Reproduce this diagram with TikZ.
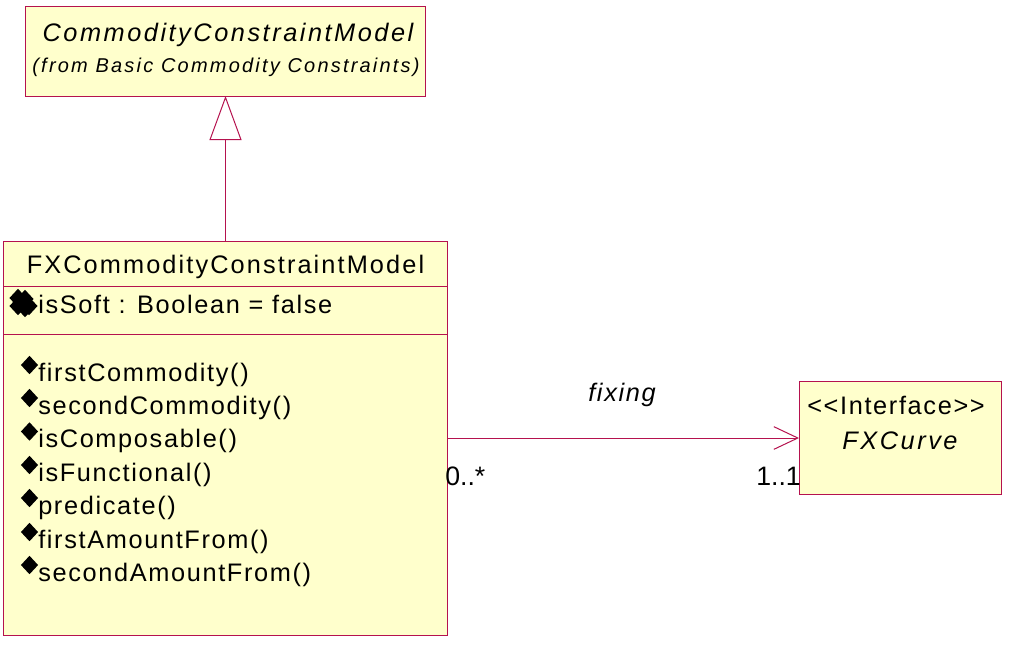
\documentclass[tikz,border=0pt]{standalone}
\usepackage{fontspec}
\usepackage{tikz}
\usetikzlibrary{arrows.meta,shapes.geometric}
\setmainfont{Liberation Sans}
\newfontfamily\umlfont[LetterSpace=6.5]{Liberation Sans}
\newfontfamily\umlhead[LetterSpace=8.3]{Liberation Sans}
\newfontfamily\umlital[LetterSpace=10]{Liberation Sans}
\newfontfamily\umlsmallfont[LetterSpace=11]{Liberation Sans}
\newfontfamily\umlplain{Liberation Sans}
\definecolor{umlline}{HTML}{B5124E}
\definecolor{umlfill}{HTML}{FFFFCC}
\tikzset{
  umlbox/.style={draw=umlline,fill=umlfill,line width=0.75pt,inner sep=0pt,outer sep=0pt},
  umltext/.style={inner sep=0pt,font=\umlfont\fontsize{19}{21}\selectfont},
  umlheadtext/.style={inner sep=0pt,font=\umlhead\fontsize{19}{21}\selectfont},
  umlitaltext/.style={inner sep=0pt,font=\umlital\fontsize{19}{21}\selectfont\itshape},
  umlsmall/.style={inner sep=0pt,font=\umlsmallfont\fontsize{15}{17}\selectfont\itshape},
  multtext/.style={inner sep=0pt,font=\umlplain\fontsize{20}{22}\selectfont},
  opmark/.style={diamond,fill=black,inner sep=0pt,minimum width=13pt,minimum height=14pt},
  umlconn/.style={draw=umlline,line width=0.75pt},
}
\begin{document}
\begin{tikzpicture}[x=0.75pt,y=-0.75pt]
      \useasboundingbox (0,0) rectangle (1012,644);
      \node[umlbox,minimum width=300.5pt,minimum height=67.5pt](top) at (225.5,51) {};
      \node[umlbox,minimum width=333.5pt,minimum height=295.5pt](main) at (225.5,438) {};
      \node[umlbox,minimum width=151.5pt,minimum height=85pt](curve) at (900,438) {};
      \node[umlitaltext,anchor=base](topname) at (228,41) {CommodityConstraintModel};
      \node[umlsmall,anchor=base](topfrom) at (226,72) {(from Basic Commodity Constraints)};
      \node[umlheadtext,anchor=base](mainname) at (225.5,273) {FXCommodityConstraintModel};
      \node[umltext,anchor=base](stereo) at (896,414) {<{}<Interface>{}>};
      \node[umlitaltext,anchor=base](curvename) at (900,449) {FXCurve};
      \node[umlitaltext,anchor=base,font=\umlfont\fontsize{19}{21}\selectfont\itshape](fixing) at (622,401) {fixing};
      \node[multtext,anchor=base west](multa) at (445,485) {0..*};
      \node[multtext,anchor=base east](multb) at (801,485) {1..1};
      % attribute compartment
      \path[umlconn] (main.west |- 0,286) edge (main.east |- 0,286);
      \path[umlconn] (main.west |- 0,334) edge (main.east |- 0,334);
      \node[opmark](softa) at (18,298) {};
      \node[opmark](softb) at (25,299) {};
      \node[opmark](softc) at (18,306) {};
      \node[opmark](softd) at (29,306) {};
      \node[opmark](softe) at (25,308) {};
      \node[umltext,anchor=base west](soft) at (38,313) {isSoft : Boolean = false};
      % operations
      \foreach \opname/\opy [count=\i] in {firstCommodity()/381,secondCommodity()/414,isComposable()/447.5,isFunctional()/481,predicate()/514,firstAmountFrom()/548,secondAmountFrom()/581}
      {
        \node[umltext,anchor=base west](op\i) at (38,\opy) {\opname};
        \node[opmark](mark\i) at (29.5,\opy-16) {};
      }
      % connectors
      \draw[umlconn,-{Triangle[open,fill=white,length=33pt,width=24pt]}] (main.north) -- (top.south);
      \draw[umlconn,-{Straight Barb[length=18pt,width=17pt]}] (main) -- (curve);
\end{tikzpicture}
\end{document}
